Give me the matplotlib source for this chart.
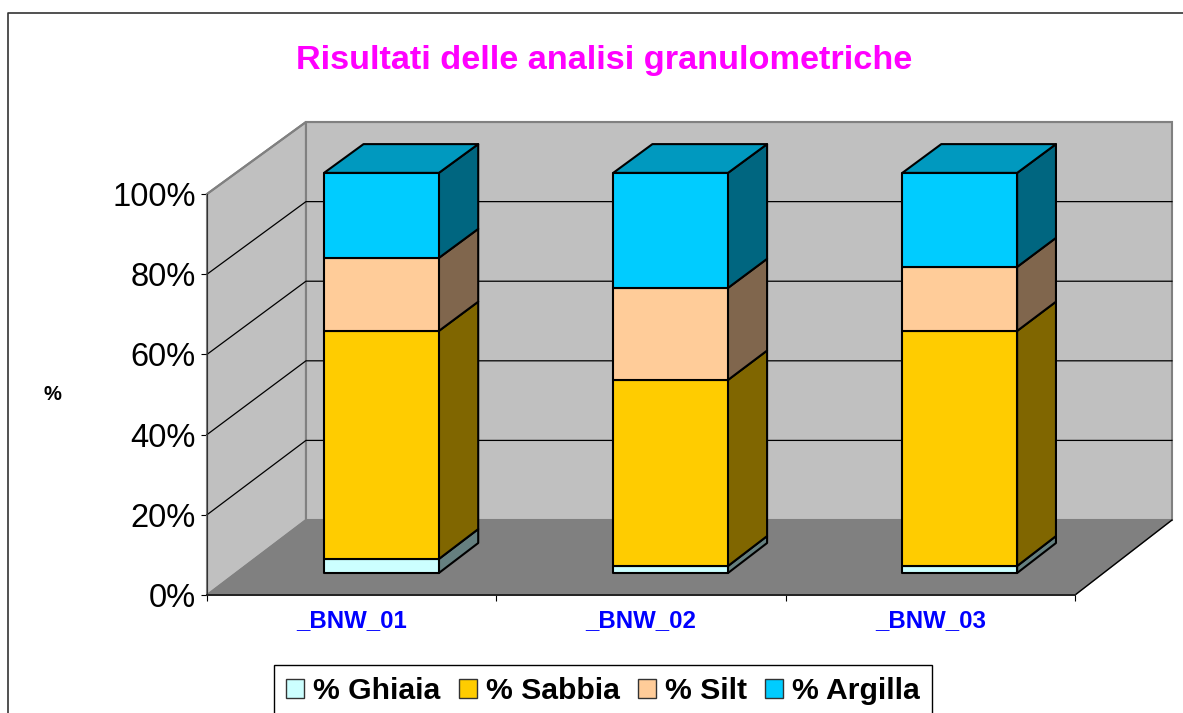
"""
Risultati delle analisi granulometriche - colonne impilate 3D
"""
import matplotlib
matplotlib.use('Agg')
import matplotlib.pyplot as plt
from matplotlib.lines import Line2D
from matplotlib.patches import Polygon, Patch

plt.rcParams['font.family'] = ['Liberation Sans', 'DejaVu Sans']

# dati
campioni = ['_BNW_01', '_BNW_02', '_BNW_03']
ghiaia = [3.5, 1.75, 1.75]
sabbia = [57.0, 46.5, 58.75]
silt = [18.25, 23.0, 16.0]
argilla = [21.25, 28.75, 23.5]
serie = ['% Ghiaia', '% Sabbia', '% Silt', '% Argilla']
valori = [ghiaia, sabbia, silt, argilla]
tick_y = [0, 20, 40, 60, 80, 100]

colori = ['#CCFFFF', '#FFCC00', '#FFCC99', '#00CCFF']
colori_lato = ['#668080', '#806600', '#80664D', '#006680']
colori_top = ['#99BFBF', '#BF9900', '#BF9973', '#0099BF']

W, H = 1183, 713
fig = plt.figure(figsize=(W / 100, H / 100), dpi=100)
ax = fig.add_axes([207 / W, 1 - 595 / H, (1075 - 207) / W, 401 / H])
ax.set_xlim(0, 3)
ax.set_ylim(0, 100)
ax.set_axisbelow(True)


# proiezione obliqua: d=0 piano frontale, d=1 parete di fondo
def proj(x, v, d):
    return x * (1 - 0.0023 * d) + 0.342 * d, v * (1 - 0.0075 * d) + 18.7 * d


def faccia(punti, **kw):
    xy = [proj(*p) for p in punti]
    ax.add_patch(Polygon(xy, closed=True, clip_on=False, **kw))


# pareti e pavimento
faccia([(0, 0, 0), (0, 100, 0), (0, 100, 1), (0, 0, 1)],
       fc='#C0C0C0', ec='#808080', lw=1.5, zorder=1)
faccia([(0, 0, 1), (0, 100, 1), (3, 100, 1), (3, 0, 1)],
       fc='#C0C0C0', ec='#808080', lw=1.5, zorder=1)
faccia([(0, 0, 0), (3, 0, 0), (3, 0, 1), (0, 0, 1)],
       fc='#808080', ec='#808080', lw=1, zorder=1.2)

# griglia sulle pareti
for v in tick_y[1:]:
    xs, ys = zip(proj(0, v, 0), proj(0, v, 1), proj(3, v, 1))
    c = '#808080' if v == 100 else 'black'
    ax.plot(xs, ys, color=c, lw=1.5 if v == 100 else 0.9, clip_on=False, zorder=1.1)
xs, ys = zip(proj(3, 0, 0), proj(3, 0, 1))
ax.plot(xs, ys, color='black', lw=1, clip_on=False, zorder=1.3)

# colonne impilate
larg = 0.397
d0, d1 = 0.293, 0.693
for i in range(len(campioni)):
    xc = i + 0.503
    base = 0
    for k, val in enumerate(valori):
        v = val[i]
        x0, x1 = xc - larg / 2, xc + larg / 2
        faccia([(x1, base, d0), (x1, base + v, d0), (x1, base + v, d1), (x1, base, d1)],
               fc=colori_lato[k], ec='black', lw=1.5, zorder=3, joinstyle='round')
        if k == len(valori) - 1:
            faccia([(x0, base + v, d0), (x1, base + v, d0), (x1, base + v, d1), (x0, base + v, d1)],
                   fc=colori_top[k], ec='black', lw=1.5, zorder=3, joinstyle='round')
        faccia([(x0, base, d0), (x1, base, d0), (x1, base + v, d0), (x0, base + v, d0)],
               fc=colori[k], ec='black', lw=1.5, zorder=4, joinstyle='round')
        base += v

# assi
for s in ['top', 'right']:
    ax.spines[s].set_visible(False)
ax.spines['left'].set_color('#333333')
ax.spines['bottom'].set_color('#222222')
ax.spines['bottom'].set_linewidth(1.4)
ax.patch.set_visible(False)
ax.set_yticks(tick_y)
ax.set_yticklabels(['%d%%' % v for v in tick_y], fontsize=23.5)
ax.tick_params(axis='y', length=4.5, width=0.8, pad=3.5)
ax.set_xticks(range(len(campioni) + 1))
ax.set_xticklabels([])
ax.set_xticks([i + 0.5 for i in range(len(campioni))], minor=True)
ax.set_xticklabels(campioni, minor=True, fontsize=17.3, fontweight='bold', color='#0000FF')
ax.tick_params(axis='x', which='major', length=4.5, width=0.8)
ax.tick_params(axis='x', which='minor', length=0, pad=10)

# testi
fig.text(604 / W, 1 - 61 / H, 'Risultati delle analisi granulometriche', color='#FF00FF',
         fontsize=24.7, fontweight='bold', ha='center', va='center')
fig.text(52 / W, 1 - 395 / H, '%', fontsize=14.5, fontweight='bold', ha='center', va='center')

# cornice del grafico, tagliata in basso e a destra
fig.add_artist(Line2D([8 / W, 8 / W, 1], [0, 1 - 13 / H, 1 - 13 / H], color='#333333', lw=1.2))

# legenda
handles = [Patch(fc=c, ec='#333333', lw=1) for c in colori]
leg = fig.legend(handles, serie, ncols=4, loc='upper left',
                 bbox_to_anchor=(274 / W, 1 - 665 / H), prop={'weight': 'bold', 'size': 21.7},
                 frameon=True, fancybox=False, edgecolor='black', framealpha=1,
                 handlelength=0.6, handleheight=0.6, handletextpad=0.3,
                 columnspacing=0.6, borderpad=0.4, borderaxespad=0)
leg.get_frame().set_linewidth(1)

plt.savefig('out.png', dpi=100)
